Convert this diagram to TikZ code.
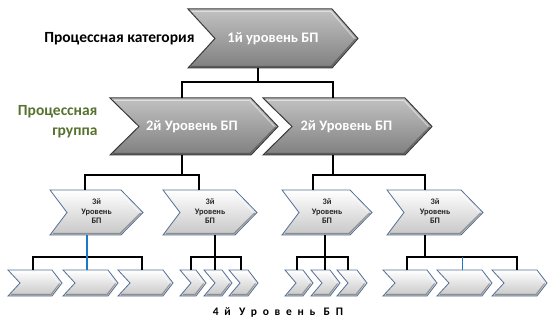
\documentclass[tikz,border=0pt]{standalone}
\usepackage{fontspec}
\setmainfont{Carlito}
\usetikzlibrary{calc}

\definecolor{groupgreen}{HTML}{56722F}
\definecolor{darkedge}{HTML}{3A3A3A}
\definecolor{blueedge}{HTML}{566F96}
\definecolor{linkblue}{HTML}{1C78C8}

\tikzset{
  darkchev/.style={draw=darkedge, line width=1pt,
    top color=black!24, bottom color=black!50, middle color=black!37},
  lightchev/.style={draw=blueedge, line width=0.8pt,
    top color=white, bottom color=black!22, middle color=black!11},
  shine/.style={draw=white, draw opacity=0.5, line width=1pt},
  shade/.style={draw=black, draw opacity=0.3, line width=1.1pt},
  slot/.style={inner sep=0pt, outer sep=0pt, draw=none, align=center},
  link/.style={draw=black, line width=1.6pt},
  bluelink/.style={draw=linkblue, line width=1.6pt},
  bigwhite/.style={text=white, font=\bfseries\fontsize{14.5}{16}\selectfont},
  smalldark/.style={text=black!85, font=\bfseries\fontsize{8.4}{9.5}\selectfont},
}

% chevron: name, left x, tip x, centre y, half height, notch depth, tip depth, style, text
\newcommand\chev[9]{%
  \path[#8] ({#2},{#4-#5}) -- ({#3-#7},{#4-#5}) -- ({#3},{#4}) -- ({#3-#7},{#4+#5})
     -- ({#2},{#4+#5}) -- ({#2+#6},{#4}) -- cycle;
  \path[shine] ({#2+4},{#4-#5+2.5}) -- ({#3-#7-1},{#4-#5+2.5}) -- ({#3-3.5},{#4});
  \path[shade] ({#3-2.5},{#4+0.5}) -- ({#3-#7-1},{#4+#5-1.5}) -- ({#2+3},{#4+#5-1.5});
  \node[slot, minimum width={(#3-#2)*1pt}, minimum height={2*#5*1pt}] (#1)
     at ({(#2+#3)/2},{#4}) {#9};
}

\begin{document}
\begin{tikzpicture}[x=1pt, y=-1pt]
\useasboundingbox (0,0) rectangle (550,321);

% level 1 and 2
\chev{l1}{188}{358}{38.5}{29.5}{27}{26}{darkchev}{}
\node[bigwhite] at (l1) {1й уровень БП};
\chev{l2a}{110}{278}{126.5}{28.5}{29}{27}{darkchev}{}
\node[bigwhite] at ([xshift=-2pt]l2a.center) {2й Уровень БП};
\chev{l2b}{263}{432}{126.5}{28.5}{29}{27}{darkchev}{}
\node[bigwhite] at ([xshift=-1pt]l2b.center) {2й Уровень БП};

% level 3
\chev{l3a}{50}{143}{212.5}{22.5}{17}{22}{lightchev}{}
\chev{l3b}{163}{257}{212.5}{22.5}{17}{22}{lightchev}{}
\chev{l3c}{282}{372}{212.5}{22.5}{17}{22}{lightchev}{}
\chev{l3d}{387}{483}{212.5}{22.5}{17}{22}{lightchev}{}
\foreach \n in {l3a,l3b,l3c,l3d}
  \node[smalldark, align=center] at ([yshift=1pt]\n.center) {3й\\Уровень\\БП};

% level 4
\chev{m1}{8}{62}{283}{13}{12}{10}{lightchev}{}
\chev{m2}{63}{118}{283}{13}{12}{10}{lightchev}{}
\chev{m3}{118}{173}{283}{13}{12}{10}{lightchev}{}
\chev{m4}{180}{206}{283}{13}{11}{10}{lightchev}{}
\chev{m5}{204}{232}{283}{13}{11}{10}{lightchev}{}
\chev{m6}{229}{258}{283}{13}{11}{10}{lightchev}{}
\chev{m7}{285}{313}{283}{13}{11}{10}{lightchev}{}
\chev{m8}{311}{340}{283}{13}{11}{10}{lightchev}{}
\chev{m9}{337}{367}{283}{13}{11}{10}{lightchev}{}
\chev{m10}{383}{437}{283}{13}{12}{10}{lightchev}{}
\chev{m11}{437}{492}{283}{13}{12}{10}{lightchev}{}
\chev{m12}{492}{547}{283}{13}{12}{10}{lightchev}{}

% connectors: level 1 -> level 2
\draw[link] ([xshift=-15pt]l1.south) -- ++(0,14);
\draw[link] ([xshift=-12pt]l2a.north) -- ++(0,-16) -| ([xshift=-14.5pt]l2b.north);

% level 2 -> level 3
\draw[link] ([xshift=-12pt]l2a.south) -- ++(0,20);
\draw[link] ([xshift=-11.5pt]l3a.north) -- ++(0,-15) -| ([xshift=-11pt]l3b.north);
\draw[link] ([xshift=-14.5pt]l2b.south) -- ++(0,20);
\draw[link] ([xshift=-14pt]l3c.north) -- ++(0,-15) -| ([xshift=-10pt]l3d.north);

% level 3 -> level 4
\draw[link] ([xshift=-2pt]m1.north) -- ++(0,-13) -| ([xshift=-3.5pt]m3.north);
\draw[bluelink] ([xshift=-9.5pt]l3a.south) -- ([xshift=-3.5pt]m2.north);

\draw[link] ([xshift=-2pt]m4.north) -- ++(0,-13) -| ([xshift=-2.5pt]m6.north);
\draw[link] ([xshift=5pt]l3b.south) -- ([xshift=-3pt]m5.north);

\draw[link] ([xshift=-2pt]m7.north) -- ++(0,-13) -| ([xshift=-4pt]m9.north);
\draw[link] ([xshift=-2pt]l3c.south) -- ([xshift=-0.5pt]m8.north);

\draw[link] ([xshift=-3pt]m10.north) -- ++(0,-13) -| ([xshift=-2.5pt]m12.north);
\draw[link] ([xshift=-10pt]l3d.south) -- ++(0,22);
\draw[bluelink] ([xshift=-2pt]m11.north) -- ++(0,-13);

% side captions
\node[anchor=east, font=\bfseries\fontsize{15.5}{17}\selectfont] (cat) at (198,38.5) {Процессная категория};
\node[anchor=east, align=right, text=groupgreen,
      font=\bfseries\fontsize{15.5}{20}\selectfont] (grp) at (101,122) {Процессная\\группа};
\node[font=\bfseries\fontsize{11.5}{13}\selectfont\addfontfeature{LetterSpace=50}] (lvl4) at (278,312) {4й Уровень БП};
\end{tikzpicture}
\end{document}
